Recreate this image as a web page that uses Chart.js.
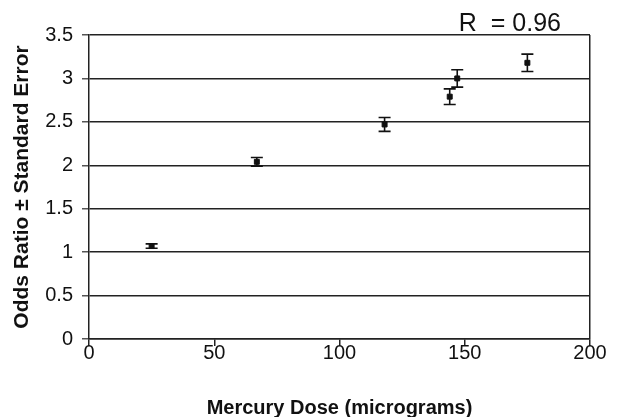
<!DOCTYPE html>
<html lang="en">
  <head>
    <meta charset="utf-8" />
    <title>Odds ratio vs mercury dose</title>
    <script src="https://cdn.jsdelivr.net/npm/chart.js"></script>
    <style>
      html, body { margin: 0; padding: 0; background: #fff; }
      #wrap { width: 617px; height: 417px; }
    </style>
  </head>
  <body>
    <div id="wrap"><canvas id="myChart"></canvas></div>
    <script>
      const doses = [25, 67, 118, 144, 147, 175];
      const oddsRatios = [1.07, 2.04, 2.47, 2.79, 3.0, 3.18];
      const stdErrors = [0.025, 0.05, 0.08, 0.09, 0.1, 0.1];
      const rLabel = "R  = 0.96";
      const xTitle = "Mercury Dose (micrograms)";
      const yTitle = "Odds Ratio \u00b1 Standard Error";

      const font = "'Liberation Sans', Arial, sans-serif";

      // error bars + R label
      const errorBars = {
        id: "errorBars",
        afterDatasetsDraw(chart) {
          const ctx = chart.ctx;
          const x = chart.scales.x;
          const y = chart.scales.y;
          ctx.save();
          ctx.strokeStyle = "#111";
          ctx.lineWidth = 1.6;
          for (let i = 0; i < doses.length; i++) {
            const px = x.getPixelForValue(doses[i]);
            const top = y.getPixelForValue(oddsRatios[i] + stdErrors[i]);
            const bot = y.getPixelForValue(oddsRatios[i] - stdErrors[i]);
            ctx.beginPath();
            ctx.moveTo(px, top);
            ctx.lineTo(px, bot);
            ctx.moveTo(px - 6, top);
            ctx.lineTo(px + 6, top);
            ctx.moveTo(px - 6, bot);
            ctx.lineTo(px + 6, bot);
            ctx.stroke();
          }
          ctx.fillStyle = "#111";
          ctx.font = "25px " + font;
          ctx.textAlign = "right";
          ctx.textBaseline = "alphabetic";
          ctx.fillText(rLabel, 561, 31);
          ctx.restore();
        },
      };

      new Chart(document.getElementById("myChart"), {
        type: "scatter",
        data: {
          datasets: [
            {
              data: doses.map((d, i) => ({ x: d, y: oddsRatios[i] })),
              pointStyle: "rect",
              pointRadius: 3.5,
              pointBorderWidth: 1,
              backgroundColor: "#111",
              borderColor: "#111",
            },
          ],
        },
        options: {
          responsive: true,
          maintainAspectRatio: false,
          animation: false,
          layout: { padding: { top: 35, right: 27, left: 0, bottom: 0 } },
          plugins: { legend: { display: false }, tooltip: { enabled: false } },
          scales: {
            x: {
              type: "linear",
              min: 0,
              max: 200,
              afterFit: (s) => { s.height = 78; },
              ticks: {
                stepSize: 50,
                color: "#111",
                padding: -5,
                font: { family: font, size: 20 },
              },
              grid: {
                color: (c) => (c.tick && c.tick.value === 200 ? "#222" : "rgba(0,0,0,0)"),
                tickColor: "#222",
                tickLength: 7,
                lineWidth: 1.5,
              },
              border: { color: "#222", width: 1.5 },
              title: {
                display: true,
                text: xTitle,
                color: "#111",
                padding: { top: 0, bottom: -3 },
                font: { family: font, size: 20, weight: "bold" },
              },
            },
            y: {
              min: 0,
              max: 3.5,
              afterFit: (s) => { s.width = 89; },
              ticks: {
                stepSize: 0.5,
                color: "#111",
                padding: 9,
                callback: (v) => String(v),
                font: { family: font, size: 20 },
              },
              grid: {
                color: "#222",
                tickColor: "#555",
                tickLength: 7,
                lineWidth: 1.5,
              },
              border: { color: "#222", width: 1.5 },
              title: {
                display: true,
                text: yTitle,
                color: "#111",
                padding: { top: 10, bottom: 0 },
                font: { family: font, size: 21, weight: "bold" },
              },
            },
          },
        },
        plugins: [errorBars],
      });
    </script>
  </body>
</html>
